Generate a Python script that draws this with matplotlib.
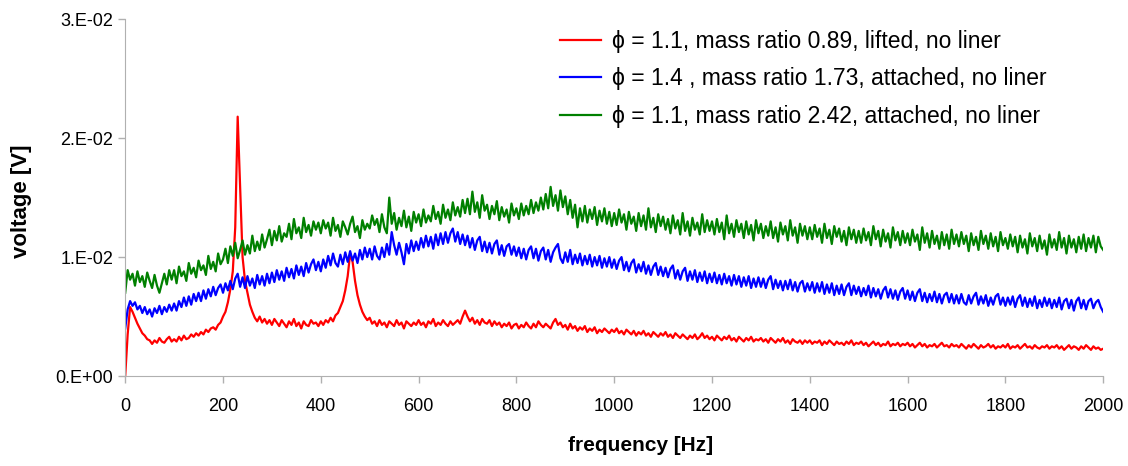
import matplotlib
matplotlib.use("Agg")
import matplotlib.pyplot as plt
import numpy as np

plt.rcParams['font.family'] = ['Liberation Sans', 'DejaVu Sans']

# spectra, values in mV, one value every 5 Hz (one row = 100 Hz)
freq = np.arange(0, 2001, 5)

red_mv = [
    0.0, 3.5, 5.8, 5.4, 4.9, 4.4, 4.0, 3.6, 3.4, 3.1, 3.0, 2.7, 3.0, 2.8, 3.2, 2.9, 2.8, 3.1, 3.3, 2.9,
    3.1, 2.9, 3.3, 3.0, 3.4, 3.1, 3.2, 3.5, 3.3, 3.6, 3.4, 3.7, 3.5, 3.9, 3.7, 4.0, 4.1, 3.9, 4.3, 4.5,
    5.0, 5.4, 6.2, 7.3, 8.8, 12.5, 21.8, 16.0, 10.0, 8.0, 7.0, 6.0, 5.4, 4.9, 4.6, 5.0, 4.5, 4.8, 4.4, 4.7,
    4.3, 4.8, 4.5, 4.2, 4.7, 4.4, 4.1, 4.6, 4.3, 4.8, 4.2, 4.5, 4.0, 4.6, 4.3, 4.2, 4.7, 4.4, 4.5, 4.2,
    4.6, 4.3, 4.7, 4.5, 4.9, 4.6, 5.1, 5.3, 5.8, 6.3, 7.2, 8.4, 10.3, 9.6, 8.0, 6.8, 6.0, 5.4, 5.0, 4.7,
    4.9, 4.4, 4.6, 4.2, 4.7, 4.3, 4.5, 4.1, 4.6, 4.4, 4.2, 4.7, 4.3, 4.5, 4.0, 4.6, 4.4, 4.2, 4.5, 4.3,
    4.7, 4.3, 4.5, 4.1, 4.6, 4.4, 4.8, 4.2, 4.5, 4.3, 4.7, 4.4, 4.2, 4.6, 4.3, 4.5, 4.7, 4.4, 5.0, 5.5,
    5.0, 4.6, 4.9, 4.4, 4.7, 4.3, 4.8, 4.5, 4.4, 4.7, 4.2, 4.6, 4.3, 4.5, 4.1, 4.4, 4.2, 4.5, 4.0, 4.3,
    4.4, 4.0, 4.3, 4.1, 4.5, 4.2, 4.0, 4.4, 4.1, 4.6, 4.3, 4.1, 4.4, 4.2, 4.0, 4.5, 4.8, 4.3, 4.5, 4.1,
    4.3, 3.9, 4.4, 4.0, 4.2, 3.8, 4.1, 3.9, 4.2, 3.7, 4.0, 3.8, 4.1, 3.6, 3.9, 3.7, 4.0, 3.8, 3.6, 3.9,
    3.7, 4.0, 3.6, 3.8, 3.5, 3.9, 3.7, 3.5, 3.8, 3.4, 3.7, 3.5, 3.8, 3.4, 3.6, 3.3, 3.7, 3.5, 3.3, 3.6,
    3.4, 3.7, 3.3, 3.5, 3.2, 3.6, 3.4, 3.2, 3.5, 3.3, 3.1, 3.4, 3.2, 3.5, 3.1, 3.3, 3.6, 3.2, 3.4, 3.1,
    3.3, 3.0, 3.4, 3.2, 3.0, 3.3, 3.1, 3.4, 3.0, 3.2, 2.9, 3.3, 3.1, 2.9, 3.2, 3.0, 3.3, 2.9, 3.1, 3.0,
    3.2, 2.9, 3.1, 2.8, 3.2, 3.0, 2.8, 3.1, 2.9, 3.2, 2.8, 3.0, 2.7, 3.1, 2.9, 2.8, 3.0, 2.7, 3.0, 2.8,
    3.0, 2.7, 2.9, 2.8, 3.0, 2.6, 2.9, 2.7, 3.0, 2.8, 2.6, 2.9, 2.7, 2.8, 2.6, 2.9, 2.7, 3.0, 2.6, 2.8,
    2.7, 2.9, 2.6, 2.8, 2.5, 2.7, 2.9, 2.6, 2.8, 2.5, 2.7, 2.6, 2.9, 2.5, 2.7, 2.6, 2.8, 2.5, 2.7, 2.6,
    2.8, 2.5, 2.7, 2.4, 2.6, 2.8, 2.5, 2.7, 2.4, 2.6, 2.5, 2.7, 2.4, 2.6, 2.8, 2.5, 2.6, 2.4, 2.7, 2.5,
    2.6, 2.4, 2.7, 2.5, 2.3, 2.6, 2.4, 2.7, 2.5, 2.3, 2.6, 2.4, 2.5, 2.7, 2.4, 2.6, 2.3, 2.5, 2.4, 2.6,
    2.4, 2.7, 2.3, 2.5, 2.4, 2.6, 2.3, 2.5, 2.7, 2.4, 2.5, 2.3, 2.6, 2.4, 2.3, 2.5, 2.4, 2.6, 2.3, 2.5,
    2.4, 2.6, 2.3, 2.5, 2.2, 2.4, 2.6, 2.3, 2.5, 2.4, 2.2, 2.5, 2.3, 2.6, 2.4, 2.2, 2.5, 2.3, 2.4, 2.2,
    2.3,
]

blue_mv = [
    4.0, 5.6, 6.3, 5.9, 6.2, 5.6, 5.9, 5.3, 5.8, 5.2, 5.6, 5.0, 5.7, 5.3, 5.9, 5.2, 5.8, 5.4, 6.0, 5.5,
    6.1, 5.5, 6.3, 5.8, 6.6, 5.9, 6.7, 6.0, 6.9, 6.3, 7.0, 6.3, 7.2, 6.5, 7.3, 6.7, 7.5, 6.8, 7.4, 7.7,
    7.0, 7.8, 7.2, 8.0, 7.3, 8.2, 8.6, 7.5, 8.3, 7.4, 8.4, 7.6, 8.2, 7.4, 8.5, 7.7, 8.4, 7.6, 8.6, 7.8,
    8.7, 7.9, 8.9, 8.1, 8.8, 8.0, 9.1, 8.3, 9.0, 8.2, 9.3, 8.5, 9.2, 8.4, 9.5, 8.7, 9.4, 9.8, 8.9, 9.6,
    8.8, 9.8, 9.1, 10.1, 9.3, 10.3, 9.5, 9.2, 10.2, 9.4, 10.4, 9.6, 10.5, 9.7, 10.3, 9.5, 10.6, 9.8, 10.8, 10.0,
    10.7, 9.8, 10.9, 10.1, 9.8, 10.8, 10.0, 11.1, 10.2, 12.1, 11.0, 10.2, 11.2, 10.4, 9.4, 11.1, 10.3, 11.4, 10.5, 11.3,
    10.6, 11.6, 10.8, 11.8, 10.9, 11.7, 10.7, 11.9, 11.0, 12.0, 11.1, 12.1, 11.2, 12.0, 12.4, 11.3, 12.1, 11.1, 11.9, 11.0,
    11.8, 10.8, 11.6, 10.6, 11.4, 11.7, 10.5, 11.3, 10.4, 11.2, 10.3, 11.1, 11.4, 10.2, 11.0, 10.1, 10.9, 11.1, 10.2, 10.9,
    10.1, 10.8, 9.9, 10.7, 9.8, 10.6, 10.9, 9.9, 10.7, 9.7, 10.5, 10.8, 9.8, 10.6, 9.6, 10.4, 10.8, 11.1, 9.9, 9.5,
    10.4, 9.6, 10.6, 9.4, 10.2, 9.5, 10.3, 9.3, 10.1, 9.4, 10.2, 9.2, 10.0, 9.3, 10.1, 9.1, 9.9, 9.2, 10.0, 9.1,
    9.8, 9.0, 9.7, 10.0, 8.9, 9.6, 8.8, 9.5, 9.8, 8.7, 9.4, 8.8, 9.6, 8.6, 9.3, 8.5, 9.2, 9.5, 8.5, 9.2,
    8.4, 9.1, 8.3, 9.0, 9.3, 8.2, 8.9, 8.1, 8.8, 9.1, 8.0, 8.8, 8.1, 8.9, 7.9, 8.7, 8.0, 8.8, 7.8, 8.6,
    7.9, 8.7, 7.8, 8.5, 7.7, 8.6, 7.8, 8.4, 7.6, 8.5, 7.7, 8.4, 7.5, 8.3, 7.6, 8.4, 7.4, 8.2, 7.5, 8.3,
    7.5, 8.2, 7.4, 8.1, 8.4, 7.3, 8.1, 7.4, 8.0, 7.2, 8.0, 7.3, 8.1, 7.2, 7.9, 7.1, 7.8, 8.0, 7.1, 7.8,
    7.2, 7.9, 7.0, 7.8, 7.1, 7.9, 6.9, 7.7, 7.0, 7.8, 6.8, 7.6, 6.9, 7.7, 6.8, 7.5, 7.8, 6.8, 7.6, 6.9,
    7.5, 6.7, 7.4, 6.8, 7.6, 6.6, 7.4, 6.7, 7.3, 6.5, 7.2, 7.5, 6.6, 7.3, 6.5, 7.2, 6.4, 7.1, 7.4, 6.5,
    7.2, 6.4, 7.1, 6.3, 7.0, 7.3, 6.3, 7.0, 6.2, 6.9, 6.3, 7.1, 6.2, 6.9, 6.1, 6.8, 7.0, 6.2, 6.9, 6.1,
    6.8, 6.1, 6.9, 6.2, 6.0, 6.8, 6.1, 6.7, 7.0, 6.0, 6.7, 6.1, 6.8, 5.9, 6.6, 6.0, 6.7, 6.9, 6.0, 6.6,
    5.9, 6.6, 6.0, 6.7, 5.8, 6.5, 6.8, 5.9, 6.6, 5.8, 6.5, 5.9, 6.7, 5.7, 6.4, 5.8, 6.6, 5.9, 6.5, 5.7,
    6.4, 5.8, 6.6, 5.6, 6.3, 6.5, 5.7, 6.4, 5.5, 6.3, 6.6, 5.7, 6.4, 5.6, 6.3, 6.5, 5.7, 6.2, 6.4, 5.8,
    5.4,
]

green_mv = [
    7.0, 8.9, 8.1, 8.6, 7.6, 8.8, 7.9, 8.4, 7.5, 8.7, 8.0, 7.4, 8.5, 7.6, 7.0, 7.8, 8.6, 7.7, 8.9, 8.1,
    8.9, 7.8, 9.2, 8.4, 8.8, 8.0, 9.5, 8.6, 9.1, 8.3, 9.7, 8.9, 9.3, 8.5, 10.1, 9.0, 9.6, 8.8, 10.3, 9.4,
    9.8, 10.7, 9.5, 10.9, 10.1, 11.2, 9.9, 10.6, 11.4, 10.2, 11.0, 10.3, 11.8, 10.5, 11.3, 10.6, 11.9, 10.8, 11.5, 12.3,
    11.0, 12.2, 11.4, 12.6, 11.3, 12.0, 11.7, 12.8, 11.5, 13.2, 12.0, 12.5, 11.6, 13.3, 12.1, 12.7, 11.8, 13.0, 12.3, 12.9,
    12.0, 13.1, 12.4, 12.9, 11.8, 13.3, 12.2, 12.7, 11.7, 13.0, 12.5, 11.9, 12.8, 13.4, 12.1, 12.6, 11.6, 13.1, 12.3, 12.8,
    12.4, 13.5, 12.7, 13.2, 12.1, 13.6, 12.5, 12.0, 15.0, 12.8, 13.7, 12.3, 13.3, 12.6, 13.9, 12.5, 13.4, 12.2, 13.8, 12.9,
    13.6, 12.6, 14.0, 12.9, 13.5, 13.0, 14.3, 13.2, 13.8, 12.8, 14.4, 13.3, 14.0, 13.1, 14.6, 13.5, 14.2, 13.4, 14.8, 13.7,
    14.9, 13.6, 15.5, 13.8, 14.6, 13.3, 15.2, 13.9, 14.4, 13.2, 14.3, 13.6, 14.7, 13.1, 14.2, 13.4, 14.0, 12.9, 14.5, 13.5,
    14.1, 13.2, 14.5, 13.5, 14.3, 13.6, 14.8, 13.7, 14.6, 13.9, 15.0, 14.0, 15.3, 14.1, 15.9, 14.3, 15.2, 13.9, 15.6, 14.2,
    15.1, 13.6, 14.8, 13.3, 14.4, 12.5, 14.1, 13.0, 14.3, 12.9, 14.0, 13.2, 14.2, 12.7, 13.9, 13.0, 14.1, 12.8, 13.8, 12.6,
    13.7, 12.7, 14.0, 12.9, 13.6, 12.3, 13.8, 12.8, 13.4, 12.2, 13.7, 12.6, 13.5, 12.3, 14.1, 12.5, 13.3, 12.1, 13.6, 12.6,
    13.4, 12.3, 13.2, 12.0, 13.5, 12.4, 13.1, 11.9, 13.7, 12.2, 13.0, 11.8, 13.3, 12.3, 12.9, 11.9, 13.6, 12.1, 13.1, 12.2,
    13.0, 11.9, 13.2, 12.1, 12.9, 11.5, 13.5, 12.0, 12.8, 11.7, 13.1, 12.1, 12.8, 11.6, 13.0, 11.9, 12.7, 11.4, 13.1, 12.0,
    12.8, 11.6, 12.6, 11.8, 13.0, 11.6, 12.5, 11.3, 12.9, 11.9, 12.6, 11.4, 13.1, 11.8, 12.5, 11.2, 12.8, 11.8, 12.6, 11.5,
    12.5, 11.5, 12.7, 11.7, 12.4, 11.2, 12.8, 11.6, 12.3, 11.1, 12.6, 11.7, 12.4, 11.3, 12.2, 11.0, 12.5, 11.5, 12.3, 11.2,
    12.2, 11.2, 12.4, 11.4, 12.1, 11.0, 12.6, 11.5, 12.2, 10.9, 12.3, 11.3, 12.0, 10.8, 12.5, 11.4, 12.1, 11.0, 12.2, 11.2,
    12.0, 11.0, 12.3, 11.3, 11.9, 10.6, 12.5, 11.2, 12.0, 10.8, 12.2, 11.1, 11.8, 10.7, 12.1, 11.0, 11.9, 10.7, 12.3, 11.1,
    11.9, 10.9, 12.1, 11.1, 11.8, 10.5, 12.0, 11.0, 11.7, 10.6, 12.2, 11.1, 11.8, 10.7, 12.0, 10.9, 11.7, 10.5, 12.1, 11.0,
    11.6, 10.7, 11.9, 10.9, 11.7, 10.4, 11.8, 10.8, 11.5, 10.3, 12.0, 10.9, 11.6, 10.5, 11.8, 10.7, 11.4, 10.2, 11.9, 10.8,
    11.5, 10.6, 12.1, 10.8, 11.6, 10.3, 11.8, 10.8, 11.5, 10.4, 11.7, 10.7, 11.9, 10.5, 11.6, 10.8, 11.8, 10.4, 11.7, 10.9,
    10.6,
]

labels = [
    "\u03d5 = 1.1, mass ratio 0.89, lifted, no liner",
    "\u03d5 = 1.4 , mass ratio 1.73, attached, no liner",
    "\u03d5 = 1.1, mass ratio 2.42, attached, no liner",
]
colors = ["#ff0000", "#0000ff", "#008000"]

yticks = [0.0, 0.01, 0.02, 0.03]
ytick_labels = ["0.E+00", "1.E-02", "2.E-02", "3.E-02"]
xticks = list(range(0, 2001, 200))

fig = plt.figure(figsize=(11.28, 4.66), dpi=100)
ax = fig.add_axes([0.111, 0.193, 0.867, 0.766])

for vals, lab, col in zip([red_mv, blue_mv, green_mv], labels, colors):
    ax.plot(freq, np.array(vals) * 1e-3, color=col, lw=1.6, label=lab)

ax.set_xlim(0, 2000)
ax.set_ylim(0, 0.03)
ax.set_xticks(xticks)
ax.set_yticks(yticks)
ax.set_yticklabels(ytick_labels)
ax.tick_params(labelsize=13, color="#b0b0b0", length=5, width=1)
ax.tick_params(axis="x", pad=11)

for side in ("top", "right"):
    ax.spines[side].set_visible(False)
for side in ("left", "bottom"):
    ax.spines[side].set_color("#b0b0b0")

ax.set_xlabel("frequency [Hz]", fontsize=15, fontweight="bold")
ax.xaxis.set_label_coords(0.527, -0.168)
ax.set_ylabel("voltage [V]", fontsize=16, fontweight="bold")
ax.yaxis.set_label_coords(-0.095, 0.49)

ax.legend(loc="upper left", frameon=False, fontsize=16.5, handlelength=1.75,
          handletextpad=0.5, labelspacing=0.62, borderpad=0, borderaxespad=0,
          bbox_to_anchor=(0.445, 0.969))

fig.savefig("out.png", dpi=100)
